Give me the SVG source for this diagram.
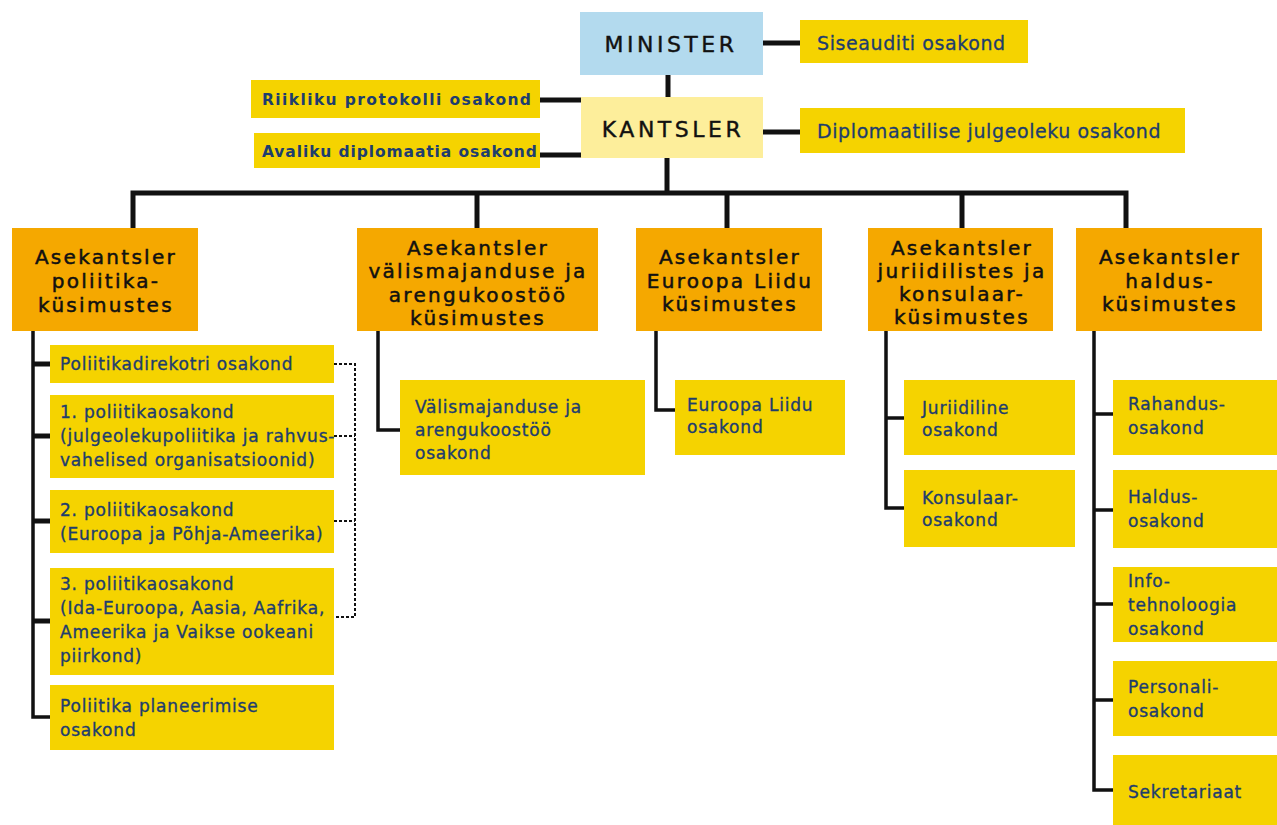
<svg xmlns="http://www.w3.org/2000/svg" width="1277" height="825" viewBox="0 0 1277 825">
<style>
.bg{fill:#ffffff}
.min{fill:#B3DAEE}
.kan{fill:#FDEE9B}
.ora{fill:#F5A800}
.yel{fill:#F5D300}
.tTop{font-family:"DejaVu Sans",Verdana,sans-serif;font-size:22px;fill:#111;stroke:#111;stroke-width:0.4;letter-spacing:3.5px;text-anchor:middle}
.tSide{font-family:"DejaVu Sans",Verdana,sans-serif;font-size:19px;fill:#1E3D6E;stroke:#1E3D6E;stroke-width:0.3;letter-spacing:0.6px}
.tSideB{font-family:"DejaVu Sans",Verdana,sans-serif;font-size:15.5px;font-weight:bold;fill:#1E3D6E;letter-spacing:0.9px}
.tL2{font-family:"DejaVu Sans",Verdana,sans-serif;font-size:20px;fill:#111;stroke:#111;stroke-width:0.5;letter-spacing:2.3px;text-anchor:middle}
.tL3{font-family:"DejaVu Sans",Verdana,sans-serif;font-size:17px;fill:#1E3D6E;stroke:#1E3D6E;stroke-width:0.35;letter-spacing:0.8px}
.c{stroke:#111;fill:none}
.thick{stroke-width:5}
.mid{stroke-width:3.5}
.dash{stroke-width:2;stroke-dasharray:3 2}
</style>
<rect class="bg" x="0" y="0" width="1277" height="825"/>

<g id="connectors">
  <line class="c thick" x1="668" y1="75" x2="668" y2="97"/>
  <line class="c thick" x1="763" y1="43" x2="800" y2="43"/>
  <line class="c thick" x1="540" y1="100" x2="581" y2="100"/>
  <line class="c thick" x1="540" y1="155" x2="581" y2="155"/>
  <line class="c thick" x1="763" y1="132" x2="800" y2="132"/>
  <line class="c thick" x1="667" y1="158" x2="667" y2="193"/>
  <polyline class="c thick" points="133,228 133,193 1126,193 1126,228"/>
  <line class="c thick" x1="477" y1="193" x2="477" y2="228"/>
  <line class="c thick" x1="727" y1="193" x2="727" y2="228"/>
  <line class="c thick" x1="962" y1="193" x2="962" y2="228"/>
  <!-- column 1 -->
  <polyline class="c mid" points="33,331 33,717 50,717"/>
  <line class="c thick" x1="33" y1="364" x2="50" y2="364"/>
  <line class="c thick" x1="33" y1="436" x2="50" y2="436"/>
  <line class="c thick" x1="33" y1="521" x2="50" y2="521"/>
  <line class="c thick" x1="33" y1="621" x2="50" y2="621"/>
  <polyline class="c dash" points="334,364 355,364 355,617 334,617"/>
  <line class="c dash" x1="334" y1="436" x2="355" y2="436"/>
  <line class="c dash" x1="334" y1="521" x2="355" y2="521"/>
  <!-- column 2 -->
  <polyline class="c mid" points="378,331 378,430 400,430"/>
  <!-- column 3 -->
  <polyline class="c mid" points="656,331 656,410 675,410"/>
  <!-- column 4 -->
  <polyline class="c mid" points="886,331 886,508 904,508"/>
  <line class="c mid" x1="886" y1="418" x2="904" y2="418"/>
  <!-- column 5 -->
  <polyline class="c mid" points="1094,331 1094,790 1113,790"/>
  <line class="c mid" x1="1094" y1="414" x2="1113" y2="414"/>
  <line class="c mid" x1="1094" y1="510" x2="1113" y2="510"/>
  <line class="c mid" x1="1094" y1="604" x2="1113" y2="604"/>
  <line class="c mid" x1="1094" y1="700" x2="1113" y2="700"/>
</g>

<g id="minister"><rect class="min" x="580" y="12" width="183" height="63"/><text class="tTop" x="671" y="52">MINISTER</text></g>
<g id="kantsler"><rect class="kan" x="581" y="97" width="182" height="61"/><text class="tTop" x="673" y="137">KANTSLER</text></g>
<g id="siseaudit"><rect class="yel" x="800" y="20" width="228" height="43"/><text class="tSide" x="817" y="50">Siseauditi osakond</text></g>
<g id="protokoll"><rect class="yel" x="251" y="80" width="289" height="38"/><text class="tSideB" x="262" y="105" style="letter-spacing:1.4px">Riikliku protokolli osakond</text></g>
<g id="avalik"><rect class="yel" x="254" y="133" width="286" height="35"/><text class="tSideB" x="262" y="157">Avaliku diplomaatia osakond</text></g>
<g id="diplojulg"><rect class="yel" x="800" y="108" width="385" height="45"/><text class="tSide" x="817" y="138">Diplomaatilise julgeoleku osakond</text></g>

<g id="ak-poliitika"><rect class="ora" x="12" y="228" width="186" height="103"/>
<text class="tL2" x="106" y="264">Asekantsler</text><text class="tL2" x="106" y="288">poliitika-</text><text class="tL2" x="106" y="312">küsimustes</text></g>
<g id="ak-valismaj"><rect class="ora" x="357" y="228" width="241" height="103"/>
<text class="tL2" x="478" y="255">Asekantsler</text><text class="tL2" x="478" y="278">välismajanduse ja</text><text class="tL2" x="478" y="302">arengukoostöö</text><text class="tL2" x="478" y="325">küsimustes</text></g>
<g id="ak-el"><rect class="ora" x="636" y="228" width="186" height="103"/>
<text class="tL2" x="730" y="264">Asekantsler</text><text class="tL2" x="730" y="288">Euroopa Liidu</text><text class="tL2" x="730" y="311">küsimustes</text></g>
<g id="ak-jur"><rect class="ora" x="868" y="228" width="185" height="103"/>
<text class="tL2" x="962" y="255">Asekantsler</text><text class="tL2" x="962" y="278">juriidilistes ja</text><text class="tL2" x="962" y="301">konsulaar-</text><text class="tL2" x="962" y="324">küsimustes</text></g>
<g id="ak-haldus"><rect class="ora" x="1076" y="228" width="186" height="103"/>
<text class="tL2" x="1170" y="264">Asekantsler</text><text class="tL2" x="1170" y="288">haldus-</text><text class="tL2" x="1170" y="311">küsimustes</text></g>

<g id="pol-dir"><rect class="yel" x="50" y="345" width="284" height="38"/><text class="tL3" x="60" y="370">Poliitikadirekotri osakond</text></g>
<g id="pol-1"><rect class="yel" x="50" y="395" width="284" height="83"/>
<text class="tL3" x="60" y="418">1. poliitikaosakond</text><text class="tL3" x="60" y="442">(julgeolekupoliitika ja rahvus-</text><text class="tL3" x="60" y="466">vahelised organisatsioonid)</text></g>
<g id="pol-2"><rect class="yel" x="50" y="490" width="284" height="63"/>
<text class="tL3" x="60" y="516">2. poliitikaosakond</text><text class="tL3" x="60" y="540">(Euroopa ja Põhja-Ameerika)</text></g>
<g id="pol-3"><rect class="yel" x="50" y="568" width="284" height="107"/>
<text class="tL3" x="60" y="590">3. poliitikaosakond</text><text class="tL3" x="60" y="614">(Ida-Euroopa, Aasia, Aafrika,</text><text class="tL3" x="60" y="638">Ameerika ja Vaikse ookeani</text><text class="tL3" x="60" y="662">piirkond)</text></g>
<g id="pol-plan"><rect class="yel" x="50" y="685" width="284" height="65"/>
<text class="tL3" x="60" y="712">Poliitika planeerimise</text><text class="tL3" x="60" y="736">osakond</text></g>

<g id="valismaj"><rect class="yel" x="400" y="380" width="245" height="95"/>
<text class="tL3" x="415" y="413">Välismajanduse ja</text><text class="tL3" x="415" y="436">arengukoostöö</text><text class="tL3" x="415" y="459">osakond</text></g>
<g id="el"><rect class="yel" x="675" y="380" width="170" height="75"/>
<text class="tL3" x="687" y="411">Euroopa Liidu</text><text class="tL3" x="687" y="433">osakond</text></g>

<g id="juriidiline"><rect class="yel" x="904" y="380" width="171" height="75"/>
<text class="tL3" x="922" y="414">Juriidiline</text><text class="tL3" x="922" y="436">osakond</text></g>
<g id="konsulaar"><rect class="yel" x="904" y="470" width="171" height="77"/>
<text class="tL3" x="922" y="504">Konsulaar-</text><text class="tL3" x="922" y="526">osakond</text></g>

<g id="rahandus"><rect class="yel" x="1113" y="380" width="164" height="75"/>
<text class="tL3" x="1128" y="410">Rahandus-</text><text class="tL3" x="1128" y="434">osakond</text></g>
<g id="haldus"><rect class="yel" x="1113" y="470" width="164" height="78"/>
<text class="tL3" x="1128" y="503">Haldus-</text><text class="tL3" x="1128" y="527">osakond</text></g>
<g id="info"><rect class="yel" x="1113" y="567" width="164" height="75"/>
<text class="tL3" x="1128" y="587">Info-</text><text class="tL3" x="1128" y="611">tehnoloogia</text><text class="tL3" x="1128" y="635">osakond</text></g>
<g id="personali"><rect class="yel" x="1113" y="661" width="164" height="75"/>
<text class="tL3" x="1128" y="693">Personali-</text><text class="tL3" x="1128" y="717">osakond</text></g>
<g id="sekretariaat"><rect class="yel" x="1113" y="755" width="164" height="70"/>
<text class="tL3" x="1128" y="798">Sekretariaat</text></g>
</svg>
